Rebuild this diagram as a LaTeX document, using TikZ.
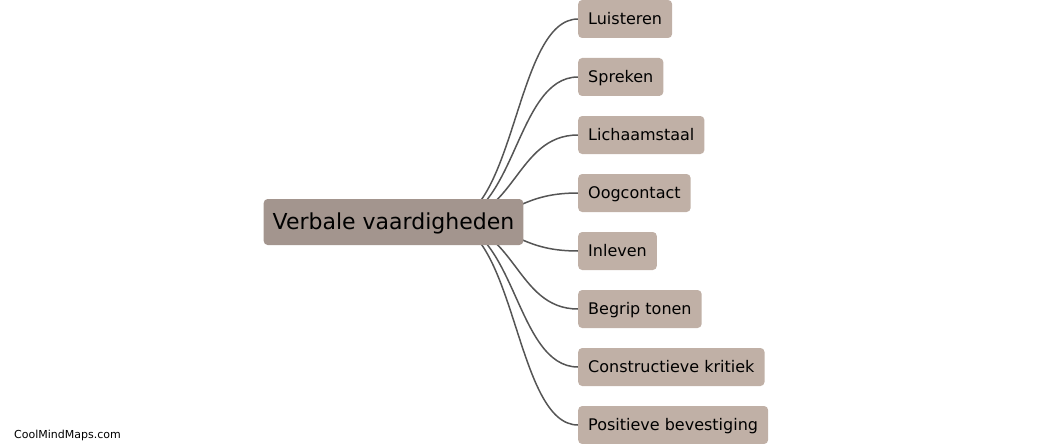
\documentclass[tikz,border=0pt]{standalone}
\usepackage{fontspec}
\setmainfont{DejaVu Sans}
\usepackage{tikz}
\usetikzlibrary{backgrounds}

\definecolor{rootfill}{RGB}{163,149,142}
\definecolor{leaffill}{RGB}{192,176,166}
\definecolor{linkgray}{RGB}{85,85,85}

\begin{document}
\begin{tikzpicture}
            [
            x=1pt, y=-1pt,
            topic/.style={fill=rootfill, rounded corners=4pt, minimum height=46pt,
                minimum width=255pt, inner xsep=9pt, inner ysep=0pt, text height=17pt,
                text depth=3pt, font={\fontsize{22}{26}\selectfont}},
            idea/.style={fill=leaffill, rounded corners=4pt, minimum height=38pt,
                inner xsep=10pt, inner ysep=0pt, anchor=west, text height=13pt,
                text depth=2.5pt, font={\fontsize{16}{19}\selectfont}},
            link/.style={draw=linkgray, line width=1.5pt},
            ]
            \useasboundingbox (0,0) rectangle (1045,444);

            % Root
            \node[topic] (verbaal) at (393.5,222) {Verbale vaardigheden};
            \coordinate (hub) at (446,222);

            % Branches
            \node[idea] (luisteren) at (578,19) {Luisteren};
            \node[idea] (spreken) at (578,77) {Spreken};
            \node[idea] (lichaam) at (578,135) {Lichaamstaal};
            \node[idea] (oog) at (578,193) {Oogcontact};
            \node[idea] (inleven) at (578,251) {Inleven};
            \node[idea] (begrip) at (578,309) {Begrip tonen};
            \node[idea] (kritiek) at (578,367) {Constructieve kritiek};
            \node[idea] (bevestiging) at (578,425) {Positieve bevestiging};

            % Connectors (behind the root)
            \begin{scope}[on background layer]
            \draw[link] (hub) .. controls +(70,0) and +(-63,0) .. (luisteren.west);
            \draw[link] (hub) .. controls +(70,0) and +(-63,0) .. (spreken.west);
            \draw[link] (hub) .. controls +(70,0) and +(-63,0) .. (lichaam.west);
            \draw[link] (hub) .. controls +(70,0) and +(-63,0) .. (oog.west);
            \draw[link] (hub) .. controls +(70,0) and +(-63,0) .. (inleven.west);
            \draw[link] (hub) .. controls +(70,0) and +(-63,0) .. (begrip.west);
            \draw[link] (hub) .. controls +(70,0) and +(-63,0) .. (kritiek.west);
            \draw[link] (hub) .. controls +(70,0) and +(-63,0) .. (bevestiging.west);
            \end{scope}

            % Watermark
            \node[anchor=west, inner sep=0pt, font={\fontsize{11}{13}\selectfont}] (merk) at (14,435) {CoolMindMaps.com};
\end{tikzpicture}
\end{document}
